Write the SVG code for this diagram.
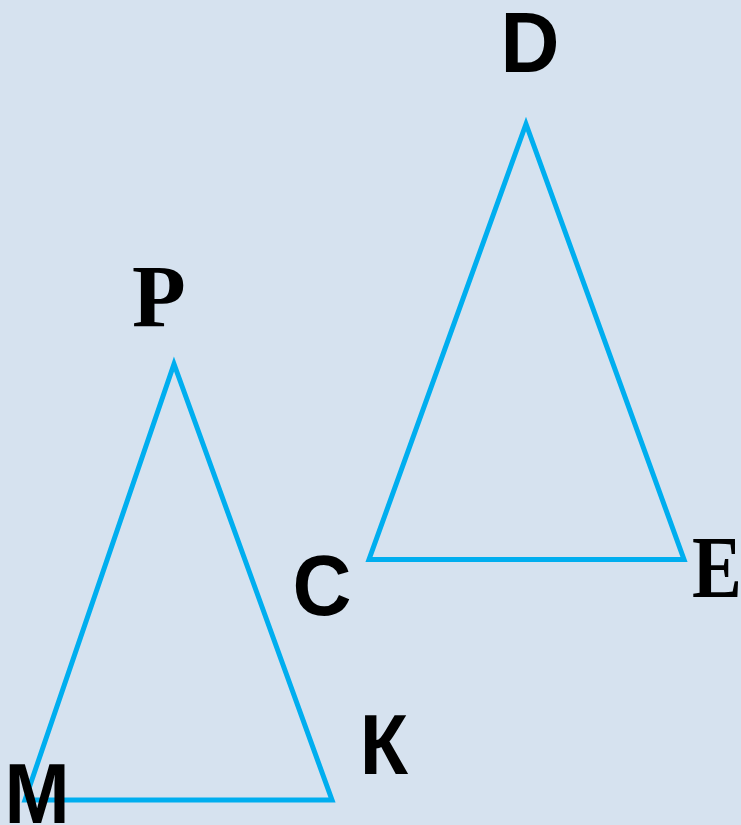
<svg xmlns="http://www.w3.org/2000/svg" width="741" height="825" viewBox="0 0 741 825">
<style>
.tri{fill:none;stroke:#00aeef;stroke-width:5;stroke-linejoin:miter}
.s{font-family:"Liberation Sans",Arial,sans-serif;font-weight:bold;font-size:86px;fill:#000;text-anchor:middle}
.r{font-family:"Liberation Serif","Times New Roman",serif;font-weight:bold;font-size:88px;fill:#000;text-anchor:middle}
</style>
<rect width="741" height="825" fill="#d6e2ef"/>
<g id="connectors">
<polygon id="triangle-DCE" class="tri" points="526,124 369,559.5 684,559.5"/>
<polygon id="triangle-PMK" class="tri" points="174,364 25,800 332,800"/>
</g>
<g id="node-D"><text class="s" transform="translate(530,72) scale(0.95,1)">D</text></g>
<g id="node-P"><text class="r" x="159" y="326">P</text></g>
<g id="node-C"><text class="s" transform="translate(322,615) scale(0.95,1)">C</text></g>
<g id="node-E"><text class="r" transform="translate(717,597) scale(0.85,1)">E</text></g>
<g id="node-K"><text class="s" transform="translate(384,774) scale(0.92,1)">К</text></g>
<g id="node-M"><text class="s" transform="translate(37,823) scale(0.91,1)">M</text></g>
</svg>
